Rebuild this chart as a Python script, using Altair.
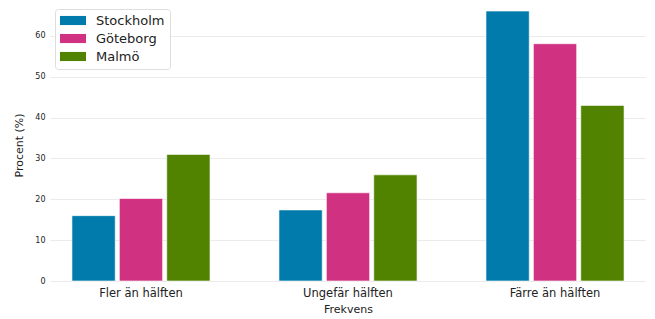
import altair as alt
import pandas as pd

categories = ["Fler än hälften", "Ungefär hälften", "Färre än hälften"]
cities = ["Stockholm", "Göteborg", "Malmö"]
stockholm = [16.0, 17.4, 66.1]
goteborg = [20.2, 21.6, 58.1]
malmo = [31.0, 26.0, 43.0]
colors = ["#007BAB", "#D03181", "#518200"]
y_ticks = [0, 10, 20, 30, 40, 50, 60]

rows = []
for city, vals in zip(cities, [stockholm, goteborg, malmo]):
    for cat, v in zip(categories, vals):
        rows.append({"Frekvens": cat, "Stad": city, "Procent": v})
df = pd.DataFrame(rows)

font = "DejaVu Sans"

chart = alt.Chart(df).mark_bar(
    stroke="white", strokeWidth=1, strokeOpacity=0.6
).encode(
    x=alt.X(
        "Frekvens:N", sort=categories,
        scale=alt.Scale(paddingInner=0.333, paddingOuter=0.106),
        axis=alt.Axis(title="Frekvens", labelAngle=0, labelFontSize=11.5, labelPadding=6,
                      titleFontSize=11, titlePadding=5, ticks=False, domain=False, grid=False,
                      labelColor="#222222", titleColor="#222222", titleFontWeight="normal",
                      labelFont=font, titleFont=font),
    ),
    xOffset=alt.XOffset("Stad:N", sort=cities, scale=alt.Scale(paddingInner=0.087, paddingOuter=0)),
    y=alt.Y(
        "Procent:Q",
        scale=alt.Scale(domain=[0, 66.6], nice=False),
        axis=alt.Axis(title="Procent (%)", values=y_ticks, labelFontSize=8, labelPadding=5,
                      titleFontSize=11, titlePadding=10, ticks=False, domain=False,
                      gridColor="#EBEBEB", labelColor="#222222", titleColor="#222222",
                      titleFontWeight="normal", labelFont=font, titleFont=font),
    ),
    color=alt.Color(
        "Stad:N", sort=cities,
        scale=alt.Scale(domain=cities, range=colors),
        legend=alt.Legend(
            title=None, orient="none", legendX=5, legendY=0,
            fillColor="white", strokeColor="#DDDDDD", cornerRadius=3, padding=5,
            labelFontSize=13, labelFont=font, labelColor="#222222",
            symbolType="M-1,-0.7H3V0.7H-1Z", symbolSize=169, symbolStrokeWidth=0,
            symbolOpacity=1, rowPadding=4, labelOffset=23,
        ),
    ),
).properties(
    width=596, height=272,
    padding={"left": 5, "top": 0, "right": 0, "bottom": 0},
).configure_view(stroke=None)

chart.save("out.html", embed_options={"renderer": "svg", "actions": False})
